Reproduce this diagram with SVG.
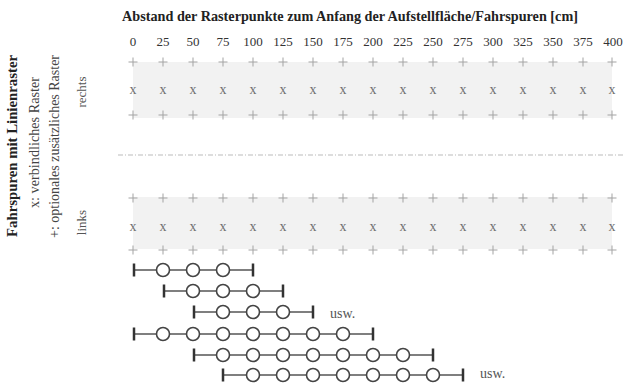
<svg xmlns="http://www.w3.org/2000/svg" width="623" height="386" viewBox="0 0 623 386">
  <style>
    text { font-family: "Liberation Serif", "Times New Roman", serif; }
    .title { font-size: 15px; font-weight: bold; fill: #222; }
    .num { font-size: 13px; fill: #333; text-anchor: middle; }
    .side { font-size: 14px; fill: #444; text-anchor: middle; }
    .sideb { font-size: 15px; font-weight: bold; fill: #222; text-anchor: middle; }
    .lane { font-size: 13px; fill: #555; text-anchor: middle; }
    .req { font-size: 14px; fill: #707070; text-anchor: middle; }
    .band { fill: #f2f2f2; }
    .sep { stroke: #bbb; stroke-width: 1; stroke-dasharray: 5 2 1 2; fill: none; }
    .rail { stroke: #555; stroke-width: 1.3; fill: none; }
    .tick { stroke: #333; stroke-width: 2.5; }
    .stop { fill: #fff; stroke: #444; stroke-width: 1.6; }
    .usw { font-size: 14px; fill: #555; }
  </style>
  <defs>
    <!-- optional grid point marker -->
    <path id="plus" d="M-4.5,0 H4.5 M0,-4.5 V4.5" stroke="#a3a3a3" stroke-width="1" fill="none"/>
  </defs>

  <!-- heading and scale -->
  <g id="heading">
    <text class="title" x="122" y="20.5" textLength="456" lengthAdjust="spacingAndGlyphs">Abstand der Rasterpunkte zum Anfang der Aufstellfläche/Fahrspuren [cm]</text>
  </g>
  <g id="scale">
    <text class="num" x="133" y="46">0</text>
    <text class="num" x="163" y="46">25</text>
    <text class="num" x="193" y="46">50</text>
    <text class="num" x="223" y="46">75</text>
    <text class="num" x="253" y="46">100</text>
    <text class="num" x="283" y="46">125</text>
    <text class="num" x="313" y="46">150</text>
    <text class="num" x="343" y="46">175</text>
    <text class="num" x="373" y="46">200</text>
    <text class="num" x="403" y="46">225</text>
    <text class="num" x="433" y="46">250</text>
    <text class="num" x="463" y="46">275</text>
    <text class="num" x="493" y="46">300</text>
    <text class="num" x="523" y="46">325</text>
    <text class="num" x="553" y="46">350</text>
    <text class="num" x="583" y="46">375</text>
    <text class="num" x="613" y="46">400</text>
  </g>

  <!-- legend, rotated -->
  <g id="legend">
    <text class="sideb" transform="translate(17,146) rotate(-90)" textLength="182" lengthAdjust="spacingAndGlyphs">Fahrspuren mit Linienraster</text>
    <text class="side" transform="translate(39,142.5) rotate(-90)" textLength="131" lengthAdjust="spacingAndGlyphs">x: verbindliches Raster</text>
    <text class="side" transform="translate(59,146.5) rotate(-90)" textLength="183" lengthAdjust="spacingAndGlyphs">+: optionales zusätzliches Raster</text>
    <text class="lane" transform="translate(86,92) rotate(-90)">rechts</text>
    <text class="lane" transform="translate(86,222.5) rotate(-90)">links</text>
  </g>

  <!-- right lane grid -->
  <g id="lane-right">
    <rect class="band" x="133" y="62" width="479" height="56"/>
    <g>
      <use href="#plus" x="133" y="62"/><use href="#plus" x="163" y="62"/><use href="#plus" x="193" y="62"/><use href="#plus" x="223" y="62"/>
      <use href="#plus" x="253" y="62"/><use href="#plus" x="283" y="62"/><use href="#plus" x="313" y="62"/><use href="#plus" x="343" y="62"/>
      <use href="#plus" x="373" y="62"/><use href="#plus" x="403" y="62"/><use href="#plus" x="433" y="62"/><use href="#plus" x="463" y="62"/>
      <use href="#plus" x="493" y="62"/><use href="#plus" x="523" y="62"/><use href="#plus" x="553" y="62"/><use href="#plus" x="583" y="62"/>
      <use href="#plus" x="612" y="62"/>
    </g>
    <g class="req">
      <text x="133" y="93.5">x</text><text x="163" y="93.5">x</text><text x="193" y="93.5">x</text><text x="223" y="93.5">x</text>
      <text x="253" y="93.5">x</text><text x="283" y="93.5">x</text><text x="313" y="93.5">x</text><text x="343" y="93.5">x</text>
      <text x="373" y="93.5">x</text><text x="403" y="93.5">x</text><text x="433" y="93.5">x</text><text x="463" y="93.5">x</text>
      <text x="493" y="93.5">x</text><text x="523" y="93.5">x</text><text x="553" y="93.5">x</text><text x="583" y="93.5">x</text>
      <text x="612" y="93.5">x</text>
    </g>
    <g>
      <use href="#plus" x="133" y="115"/><use href="#plus" x="163" y="115"/><use href="#plus" x="193" y="115"/><use href="#plus" x="223" y="115"/>
      <use href="#plus" x="253" y="115"/><use href="#plus" x="283" y="115"/><use href="#plus" x="313" y="115"/><use href="#plus" x="343" y="115"/>
      <use href="#plus" x="373" y="115"/><use href="#plus" x="403" y="115"/><use href="#plus" x="433" y="115"/><use href="#plus" x="463" y="115"/>
      <use href="#plus" x="493" y="115"/><use href="#plus" x="523" y="115"/><use href="#plus" x="553" y="115"/><use href="#plus" x="583" y="115"/>
      <use href="#plus" x="612" y="115"/>
    </g>
  </g>

  <!-- lane divider -->
  <g id="divider">
    <line class="sep" x1="118" y1="155" x2="623" y2="155"/>
  </g>

  <!-- left lane grid -->
  <g id="lane-left">
    <rect class="band" x="133" y="197" width="479" height="52"/>
    <g>
      <use href="#plus" x="133" y="198"/><use href="#plus" x="163" y="198"/><use href="#plus" x="193" y="198"/><use href="#plus" x="223" y="198"/>
      <use href="#plus" x="253" y="198"/><use href="#plus" x="283" y="198"/><use href="#plus" x="313" y="198"/><use href="#plus" x="343" y="198"/>
      <use href="#plus" x="373" y="198"/><use href="#plus" x="403" y="198"/><use href="#plus" x="433" y="198"/><use href="#plus" x="463" y="198"/>
      <use href="#plus" x="493" y="198"/><use href="#plus" x="523" y="198"/><use href="#plus" x="553" y="198"/><use href="#plus" x="583" y="198"/>
      <use href="#plus" x="612" y="198"/>
    </g>
    <g class="req">
      <text x="133" y="230.5">x</text><text x="163" y="230.5">x</text><text x="193" y="230.5">x</text><text x="223" y="230.5">x</text>
      <text x="253" y="230.5">x</text><text x="283" y="230.5">x</text><text x="313" y="230.5">x</text><text x="343" y="230.5">x</text>
      <text x="373" y="230.5">x</text><text x="403" y="230.5">x</text><text x="433" y="230.5">x</text><text x="463" y="230.5">x</text>
      <text x="493" y="230.5">x</text><text x="523" y="230.5">x</text><text x="553" y="230.5">x</text><text x="583" y="230.5">x</text>
      <text x="612" y="230.5">x</text>
    </g>
    <g>
      <use href="#plus" x="133" y="250"/><use href="#plus" x="163" y="250"/><use href="#plus" x="193" y="250"/><use href="#plus" x="223" y="250"/>
      <use href="#plus" x="253" y="250"/><use href="#plus" x="283" y="250"/><use href="#plus" x="313" y="250"/><use href="#plus" x="343" y="250"/>
      <use href="#plus" x="373" y="250"/><use href="#plus" x="403" y="250"/><use href="#plus" x="433" y="250"/><use href="#plus" x="463" y="250"/>
      <use href="#plus" x="493" y="250"/><use href="#plus" x="523" y="250"/><use href="#plus" x="553" y="250"/><use href="#plus" x="583" y="250"/>
      <use href="#plus" x="612" y="250"/>
    </g>
  </g>

  <!-- rails: base lines of each example row -->
  <g id="connectors">
    <line class="rail" x1="134" y1="270" x2="253" y2="270"/>
    <line class="rail" x1="164" y1="291" x2="283" y2="291"/>
    <line class="rail" x1="194" y1="312" x2="313" y2="312"/>
    <line class="rail" x1="134" y1="334" x2="373" y2="334"/>
    <line class="rail" x1="194" y1="355" x2="433" y2="355"/>
    <line class="rail" x1="223" y1="375" x2="463" y2="375"/>
  </g>

  <!-- example rows: end ticks and grid stops -->
  <g id="row-1">
    <line class="tick" x1="134" y1="263.5" x2="134" y2="276.5"/>
    <circle class="stop" cx="163" cy="270" r="6.5"/>
    <circle class="stop" cx="193" cy="270" r="6.5"/>
    <circle class="stop" cx="223" cy="270" r="6.5"/>
    <line class="tick" x1="253" y1="263.5" x2="253" y2="276.5"/>
  </g>
  <g id="row-2">
    <line class="tick" x1="164" y1="284.5" x2="164" y2="297.5"/>
    <circle class="stop" cx="193" cy="291" r="6.5"/>
    <circle class="stop" cx="223" cy="291" r="6.5"/>
    <circle class="stop" cx="253" cy="291" r="6.5"/>
    <line class="tick" x1="283" y1="284.5" x2="283" y2="297.5"/>
  </g>
  <g id="row-3">
    <line class="tick" x1="194" y1="305.5" x2="194" y2="318.5"/>
    <circle class="stop" cx="223" cy="312" r="6.5"/>
    <circle class="stop" cx="253" cy="312" r="6.5"/>
    <circle class="stop" cx="283" cy="312" r="6.5"/>
    <line class="tick" x1="313" y1="305.5" x2="313" y2="318.5"/>
    <text class="usw" x="330" y="318">usw.</text>
  </g>
  <g id="row-4">
    <line class="tick" x1="134" y1="327.5" x2="134" y2="340.5"/>
    <circle class="stop" cx="163" cy="334" r="6.5"/>
    <circle class="stop" cx="193" cy="334" r="6.5"/>
    <circle class="stop" cx="223" cy="334" r="6.5"/>
    <circle class="stop" cx="253" cy="334" r="6.5"/>
    <circle class="stop" cx="283" cy="334" r="6.5"/>
    <circle class="stop" cx="313" cy="334" r="6.5"/>
    <circle class="stop" cx="343" cy="334" r="6.5"/>
    <line class="tick" x1="373" y1="327.5" x2="373" y2="340.5"/>
  </g>
  <g id="row-5">
    <line class="tick" x1="194" y1="348.5" x2="194" y2="361.5"/>
    <circle class="stop" cx="223" cy="355" r="6.5"/>
    <circle class="stop" cx="253" cy="355" r="6.5"/>
    <circle class="stop" cx="283" cy="355" r="6.5"/>
    <circle class="stop" cx="313" cy="355" r="6.5"/>
    <circle class="stop" cx="343" cy="355" r="6.5"/>
    <circle class="stop" cx="373" cy="355" r="6.5"/>
    <circle class="stop" cx="403" cy="355" r="6.5"/>
    <line class="tick" x1="433" y1="348.5" x2="433" y2="361.5"/>
  </g>
  <g id="row-6">
    <line class="tick" x1="223" y1="368.5" x2="223" y2="381.5"/>
    <circle class="stop" cx="253" cy="375" r="6.5"/>
    <circle class="stop" cx="283" cy="375" r="6.5"/>
    <circle class="stop" cx="313" cy="375" r="6.5"/>
    <circle class="stop" cx="343" cy="375" r="6.5"/>
    <circle class="stop" cx="373" cy="375" r="6.5"/>
    <circle class="stop" cx="403" cy="375" r="6.5"/>
    <circle class="stop" cx="433" cy="375" r="6.5"/>
    <line class="tick" x1="463" y1="368.5" x2="463" y2="381.5"/>
    <text class="usw" x="480" y="378">usw.</text>
  </g>
</svg>
